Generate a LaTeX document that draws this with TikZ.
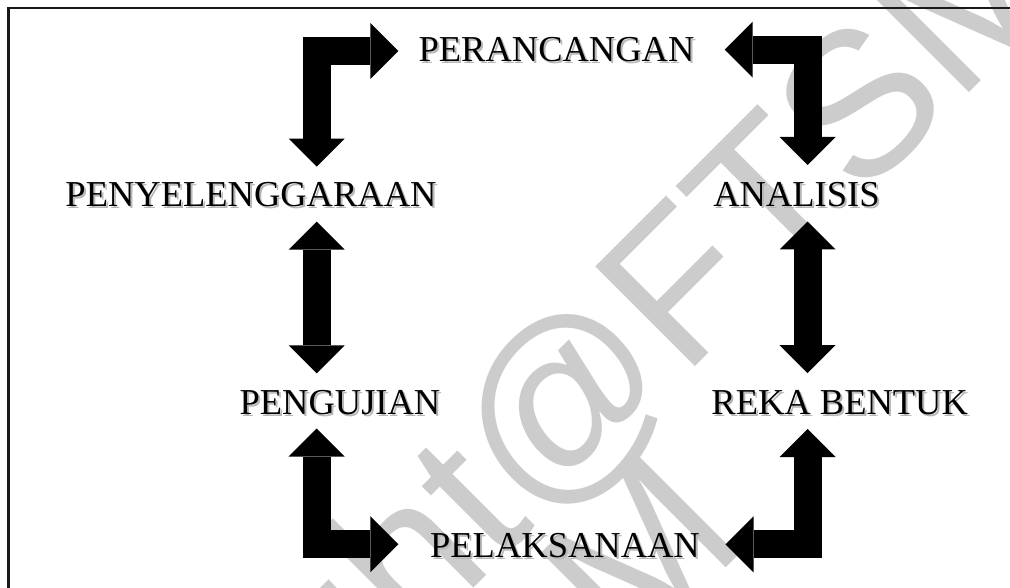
\documentclass[tikz,border=0pt]{standalone}
\usepackage{fontspec}
\setmainfont{Liberation Serif}
\newfontfamily\wmfont{Liberation Sans}
\usetikzlibrary{arrows.meta}
\definecolor{wm}{HTML}{CCCCCC}
\begin{document}
\begin{tikzpicture}[x=1pt,y=-1pt,
  lbl/.style={font=\fontsize{36.5}{40}\selectfont, inner sep=0pt, anchor=base},
  shadowlbl/.style={lbl, text=black!28},
  blockarrow/.style={line width=28pt, line join=miter, black, {Triangle[length=28pt,width=56pt,line width=0pt]}-{Triangle[length=28pt,width=56pt,line width=0pt]}},
  frameline/.style={line width=2.5pt, black!90},
  wmtext/.style={font=\wmfont\fontsize{205}{210}\selectfont, text=wm, inner sep=0pt, rotate=45, anchor=base west}
]
\useasboundingbox (0,0) rectangle (1010,588);
\fill[white] (0,0) rectangle (1010,588);

% watermark
\begin{scope}
\clip (0,0) rectangle (1010,588);
\node[wmtext] (wm1) at (-84,1146) {Copyright@FTSM};
\node[wmtext] (wm2) at (-412,1706) {Copyright@FTSM};
\end{scope}

% frame
\coordinate (fbl) at (8.7,588);
\coordinate (ftl) at (8.7,8);
\coordinate (ftr) at (1010,8);
\draw[frameline] (fbl) -- (ftl) -- (ftr);

% label shadows
\node[shadowlbl] (perS) at (558.5,64) {PERANCANGAN};
\node[shadowlbl] (penyS) at (253,209) {PENYELENGGARAAN};
\node[shadowlbl] (anaS) at (798.5,209) {ANALISIS};
\node[shadowlbl] (pengS) at (342,416) {PENGUJIAN};
\node[shadowlbl] (rekaS) at (841.7,416) {REKA BENTUK};
\node[shadowlbl] (pelS) at (567,559) {PELAKSANAAN};

% labels
\node[lbl] (per) at (556.5,62) {PERANCANGAN};
\node[lbl] (peny) at (251,207) {PENYELENGGARAAN};
\node[lbl] (ana) at (796.5,207) {ANALISIS};
\node[lbl] (peng) at (340,414) {PENGUJIAN};
\node[lbl] (reka) at (839.7,414) {REKA BENTUK};
\node[lbl] (pel) at (565,557) {PELAKSANAAN};

% arrow end points
\coordinate (tlA) at (398.3,51);
\coordinate (tlC) at (316.7,51);
\coordinate (tlB) at (316.7,166.7);
\coordinate (trA) at (724.7,49.7);
\coordinate (trC) at (807.5,49.7);
\coordinate (trB) at (807.5,165);
\coordinate (rA) at (807.5,221.5);
\coordinate (rB) at (807.5,373.2);
\coordinate (lA) at (316.7,221.7);
\coordinate (lB) at (316.7,373.3);
\coordinate (brA) at (807.5,429);
\coordinate (brC) at (807.5,544.4);
\coordinate (brB) at (725.5,544.4);
\coordinate (blA) at (316.7,428.5);
\coordinate (blC) at (316.7,544.2);
\coordinate (blB) at (398.3,544.2);

\draw[blockarrow] (tlA) -- (tlC) -- (tlB);
\draw[blockarrow] (trA) -- (trC) -- (trB);
\draw[blockarrow] (rA) -- (rB);
\draw[blockarrow] (lA) -- (lB);
\draw[blockarrow] (brA) -- (brC) -- (brB);
\draw[blockarrow] (blA) -- (blC) -- (blB);
\end{tikzpicture}
\end{document}
